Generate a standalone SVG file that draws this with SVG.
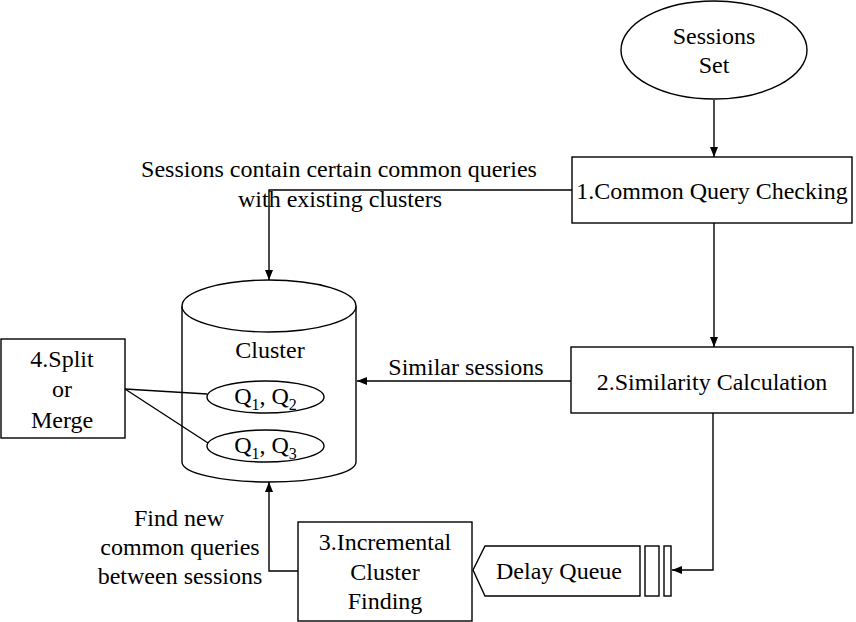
<svg xmlns="http://www.w3.org/2000/svg" width="856" height="622" viewBox="0 0 856 622" font-family="Liberation Serif, Times New Roman, Tinos, DejaVu Serif, serif">
<defs>
<marker id="ah" viewBox="0 0 10 10" refX="10" refY="5" markerWidth="10" markerHeight="10" markerUnits="userSpaceOnUse" orient="auto">
<path d="M0,1 L10,5 L0,9 Z" fill="#000"/>
</marker>
<style>
.s{fill:#fff;stroke:#000;stroke-width:1.4}
.c{fill:none;stroke:#000;stroke-width:1.4}
text{font-family:'Liberation Serif','Times New Roman',Tinos,'DejaVu Serif',serif;font-size:24px;fill:#000;text-anchor:middle}
.sub{font-size:16px}
</style>
</defs>
<rect width="856" height="622" fill="#fff"/>
<g id="sessions-set">
<ellipse class="s" cx="714" cy="50" rx="93" ry="49"/>
<text x="714" y="44">Sessions</text>
<text x="714" y="73">Set</text>
</g>
<g id="common-query-checking">
<rect class="s" x="572" y="157" width="280" height="66"/>
<text x="712" y="199">1.Common Query Checking</text>
</g>
<g id="similarity-calculation">
<rect class="s" x="571" y="347" width="282" height="66"/>
<text x="712" y="390">2.Similarity Calculation</text>
</g>
<g id="cluster">
<path class="s" d="M182,306 L182,462 A87,20 0 0 0 356,462 L356,306"/>
<ellipse class="s" cx="269" cy="306" rx="87" ry="26"/>
<text x="270" y="358">Cluster</text>
</g>
<g id="split-or-merge">
<rect class="s" x="1" y="339" width="124" height="99"/>
<text x="62" y="367">4.Split</text>
<text x="62" y="397">or</text>
<text x="62" y="428">Merge</text>
</g>
<g id="incremental-cluster-finding">
<rect class="s" x="298" y="522" width="174" height="99"/>
<text x="385" y="550">3.Incremental</text>
<text x="385" y="580">Cluster</text>
<text x="385" y="609">Finding</text>
</g>
<g id="delay-queue">
<polygon class="s" points="473,570 485,546 640,546 640,596 485,596"/>
<rect class="s" x="645" y="546" width="14" height="50"/>
<rect class="s" x="664" y="546" width="7" height="50"/>
<text x="559" y="579">Delay Queue</text>
</g>
<g id="connectors">
<line class="c" x1="714" y1="100" x2="714" y2="157" marker-end="url(#ah)"/>
<polyline class="c" points="572,190 269,190 269,280" marker-end="url(#ah)"/>
<line class="c" x1="714" y1="223" x2="714" y2="347" marker-end="url(#ah)"/>
<line class="c" x1="571" y1="381" x2="357" y2="381" marker-end="url(#ah)"/>
<polyline class="c" points="713,413 713,570 672,570" marker-end="url(#ah)"/>
<polyline class="c" points="298,571 269,571 269,482" marker-end="url(#ah)"/>
<line class="c" x1="125" y1="389" x2="207" y2="394"/>
<line class="c" x1="125" y1="389" x2="208" y2="443"/>
<text x="339" y="177">Sessions contain certain common queries</text>
<text x="340" y="207">with existing clusters</text>
<text x="466" y="375">Similar sessions</text>
<text x="179" y="526">Find new</text>
<text x="180" y="555">common queries</text>
<text x="180" y="584">between sessions</text>
</g>
<g id="queries">
<ellipse class="s" cx="265.5" cy="397" rx="58.5" ry="16"/>
<text x="265.5" y="404">Q<tspan class="sub" dy="6">1</tspan><tspan dy="-6">, Q</tspan><tspan class="sub" dy="6">2</tspan></text>
<ellipse class="s" cx="265.5" cy="446" rx="58.5" ry="16"/>
<text x="265.5" y="453">Q<tspan class="sub" dy="6">1</tspan><tspan dy="-6">, Q</tspan><tspan class="sub" dy="6">3</tspan></text>
</g>
</svg>
